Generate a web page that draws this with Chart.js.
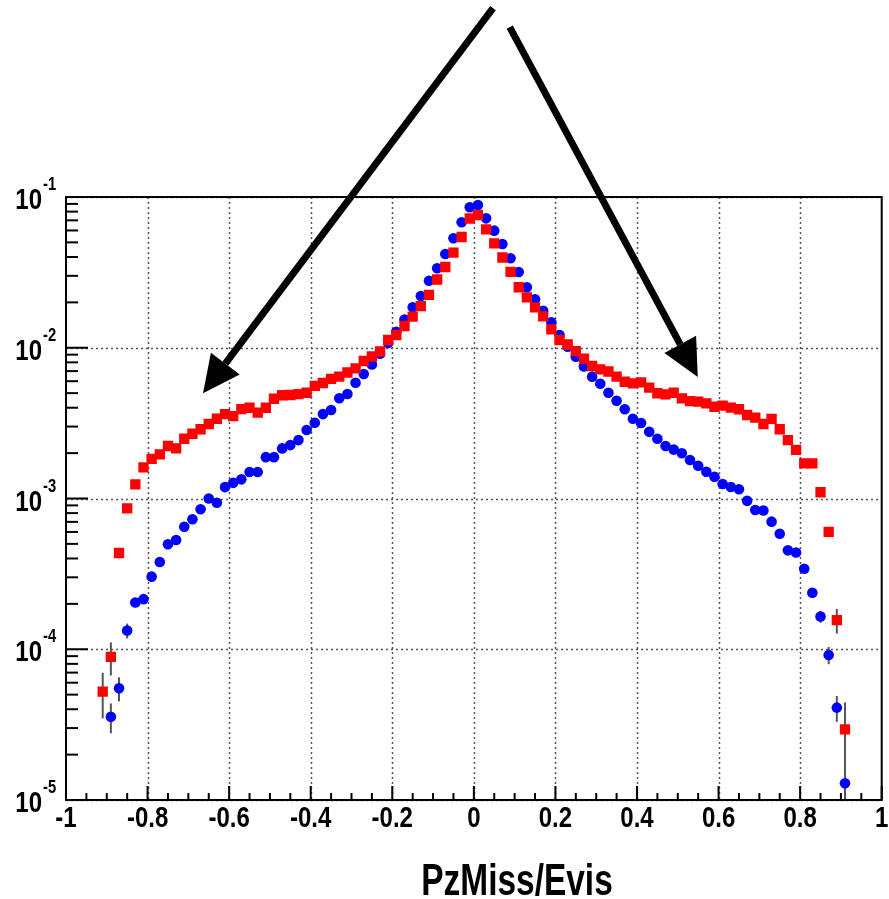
<!DOCTYPE html>
<html>
<head>
<meta charset="utf-8">
<script src="https://cdn.jsdelivr.net/npm/chart.js@4.4.0/dist/chart.umd.min.js"></script>
<style>
    html, body { margin: 0; padding: 0; background: #fff; }
    #wrap { width: 889px; height: 899px; }
</style>
</head>
<body>
<div id="wrap"><canvas id="pzmiss-chart"></canvas></div>
<script>
// bin centres (width 0.02)
const binCenters = [
    -0.91, -0.89, -0.87, -0.85, -0.83, -0.81, -0.79, -0.77, -0.75, -0.73, -0.71,
    -0.69, -0.67, -0.65, -0.63, -0.61, -0.59, -0.57, -0.55, -0.53, -0.51,
    -0.49, -0.47, -0.45, -0.43, -0.41, -0.39, -0.37, -0.35, -0.33, -0.31,
    -0.29, -0.27, -0.25, -0.23, -0.21, -0.19, -0.17, -0.15, -0.13, -0.11,
    -0.09, -0.07, -0.05, -0.03, -0.01,
    0.01, 0.03, 0.05, 0.07, 0.09, 0.11, 0.13, 0.15, 0.17, 0.19, 0.21,
    0.23, 0.25, 0.27, 0.29, 0.31, 0.33, 0.35, 0.37, 0.39, 0.41,
    0.43, 0.45, 0.47, 0.49, 0.51, 0.53, 0.55, 0.57, 0.59, 0.61,
    0.63, 0.65, 0.67, 0.69, 0.71, 0.73, 0.75, 0.77, 0.79, 0.81,
    0.83, 0.85, 0.87, 0.89, 0.91
];

// red squares
const redValues = [
    5.23e-5, 8.9e-5, 4.35e-4, 8.6e-4, 1.24e-3, 1.61e-3, 1.83e-3, 1.96e-3, 2.23e-3, 2.15e-3, 2.49e-3,
    2.69e-3, 2.88e-3, 3.12e-3, 3.38e-3, 3.63e-3, 3.52e-3, 3.92e-3, 4.0e-3, 3.71e-3, 4.0e-3,
    4.59e-3, 4.84e-3, 4.86e-3, 4.93e-3, 5.03e-3, 5.58e-3, 5.84e-3, 6.21e-3, 6.43e-3, 6.85e-3,
    7.29e-3, 8.17e-3, 8.75e-3, 9.44e-3, 1.126e-2, 1.215e-2, 1.394e-2, 1.607e-2, 1.891e-2, 2.245e-2,
    2.836e-2, 3.433e-2, 4.27e-2, 5.43e-2, 7.2e-2,
    7.6e-2, 6.1e-2, 4.93e-2, 3.97e-2, 3.19e-2, 2.52e-2, 2.16e-2, 1.854e-2, 1.617e-2, 1.325e-2, 1.126e-2,
    1.051e-2, 9.51e-3, 8.46e-3, 7.57e-3, 7.19e-3, 6.96e-3, 6.43e-3, 5.95e-3, 5.81e-3, 5.9e-3,
    5.44e-3, 4.99e-3, 4.91e-3, 5.03e-3, 4.62e-3, 4.43e-3, 4.39e-3, 4.28e-3, 4.06e-3, 4.13e-3,
    4.01e-3, 3.91e-3, 3.58e-3, 3.44e-3, 3.12e-3, 3.37e-3, 2.88e-3, 2.44e-3, 2.1e-3, 1.71e-3,
    1.71e-3, 1.1e-3, 6.0e-4, 1.56e-4, 2.94e-5
];

// blue circles
const blueValues = [
    null, 3.57e-5, 5.51e-5, 1.33e-4, 2.04e-4, 2.15e-4, 3.03e-4, 3.79e-4, 4.97e-4, 5.31e-4, 6.5e-4,
    7.28e-4, 8.48e-4, 1.0e-3, 9.38e-4, 1.19e-3, 1.27e-3, 1.34e-3, 1.5e-3, 1.5e-3, 1.88e-3,
    1.88e-3, 2.15e-3, 2.26e-3, 2.44e-3, 2.85e-3, 3.18e-3, 3.63e-3, 3.86e-3, 4.62e-3, 4.93e-3,
    5.86e-3, 6.7e-3, 7.74e-3, 9.13e-3, 1.075e-2, 1.278e-2, 1.539e-2, 1.854e-2, 2.204e-2, 2.785e-2,
    3.365e-2, 4.19e-2, 5.32e-2, 6.8e-2, 8.55e-2,
    8.85e-2, 7.22e-2, 5.98e-2, 4.88e-2, 3.92e-2, 3.18e-2, 2.52e-2, 2.1e-2, 1.758e-2, 1.475e-2, 1.215e-2,
    1.016e-2, 8.72e-3, 7.51e-3, 6.43e-3, 5.77e-3, 5.03e-3, 4.45e-3, 3.91e-3, 3.38e-3, 3.17e-3,
    2.77e-3, 2.49e-3, 2.23e-3, 2.11e-3, 1.995e-3, 1.8e-3, 1.65e-3, 1.505e-3, 1.394e-3, 1.248e-3,
    1.192e-3, 1.151e-3, 9.65e-4, 8.39e-4, 8.32e-4, 7.02e-4, 5.84e-4, 4.53e-4, 4.38e-4, 3.42e-4,
    2.37e-4, 1.65e-4, 9.16e-5, 4.1e-5, 1.29e-5
];

// statistical errors, only where they stick out of the marker
const redErrBins = [-0.91, -0.89, 0.89, 0.91];
const redErrors = [1.75e-5, 2.2e-5, 2.9e-5, 1.5e-5];
const blueErrBins = [-0.89, -0.87, -0.85, 0.85, 0.87, 0.89, 0.91];
const blueErrors = [8e-6, 1e-5, 1.5e-5, 1.5e-5, 1.2e-5, 8e-6, 7e-6];

// axes
const xTickValues = [-1, -0.8, -0.6, -0.4, -0.2, 0, 0.2, 0.4, 0.6, 0.8, 1];
const xTickLabels = ['-1', '-0.8', '-0.6', '-0.4', '-0.2', '0', '0.2', '0.4', '0.6', '0.8', '1'];
const yExponents = [-1, -2, -3, -4, -5];
const xTitle = 'PzMiss/Evis';

// arrows [x0, y0, x1, y1] in data units
const arrows = [
    [0.047, 1.79, -0.664, 5.0e-3],
    [0.088, 1.34, 0.549, 6.4e-3]
];

const FONT = '"Liberation Sans", Arial, sans-serif';

const toPoints = values => binCenters.map((x, i) => ({ x: x, y: values[i] }));

// bold helvetica in the original is condensed, squeeze it a bit
function squeezedText(ctx, text, x, y, size, align, sx) {
    ctx.save();
    ctx.translate(x, y);
    ctx.scale(sx, 1);
    ctx.font = 'bold ' + size + 'px ' + FONT;
    ctx.textAlign = align;
    ctx.fillText(text, 0, 0);
    ctx.restore();
}

const errorBars = {
    id: 'errorBars',
    beforeDatasetsDraw(chart) {
        const { ctx, chartArea } = chart;
        const x = chart.scales.x, y = chart.scales.y;
        const sets = [[redErrBins, redErrors, redValues], [blueErrBins, blueErrors, blueValues]];
        ctx.save();
        ctx.strokeStyle = '#555';
        ctx.lineWidth = 2;
        sets.forEach(([bins, errs, values]) => {
            bins.forEach((b, i) => {
                const v = values[binCenters.indexOf(b)];
                const lo = v - errs[i];
                const px = x.getPixelForValue(b);
                const yTop = y.getPixelForValue(v + errs[i]);
                const yBot = lo > y.min ? y.getPixelForValue(lo) : chartArea.bottom;
                ctx.beginPath();
                ctx.moveTo(px, yTop);
                ctx.lineTo(px, yBot);
                ctx.stroke();
            });
        });
        ctx.restore();
    }
};

const rootFrame = {
    id: 'rootFrame',
    beforeDatasetsDraw(chart) {
        const { ctx, chartArea: a } = chart;
        const x = chart.scales.x, y = chart.scales.y;
        // dotted grid
        ctx.save();
        ctx.strokeStyle = '#555';
        ctx.lineWidth = 1.5;
        ctx.setLineDash([2, 3]);
        xTickValues.slice(1, -1).forEach(v => {
            const px = Math.round(x.getPixelForValue(v)) + 0.5;
            ctx.beginPath();
            ctx.moveTo(px, a.top);
            ctx.lineTo(px, a.bottom);
            ctx.stroke();
        });
        yExponents.forEach(e => {
            const py = Math.round(y.getPixelForValue(Math.pow(10, e))) + 0.5;
            ctx.beginPath();
            ctx.moveTo(a.left, py);
            ctx.lineTo(a.right, py);
            ctx.stroke();
        });
        ctx.restore();
    },
    afterDatasetsDraw(chart) {
        const { ctx, chartArea: a } = chart;
        const x = chart.scales.x, y = chart.scales.y;
        ctx.save();
        ctx.strokeStyle = '#000';
        ctx.fillStyle = '#000';
        ctx.lineWidth = 2;

        // frame
        ctx.strokeRect(a.left, a.top, a.right - a.left, a.bottom - a.top);

        // x ticks, minor every 0.05
        for (let k = 0; k <= 40; k++) {
            const v = -1 + k * 0.05;
            const len = k % 4 === 0 ? 14 : 7;
            const px = x.getPixelForValue(v);
            ctx.beginPath();
            ctx.moveTo(px, a.bottom);
            ctx.lineTo(px, a.bottom - len);
            ctx.stroke();
        }
        // y ticks, log minors
        yExponents.forEach(e => {
            const py = y.getPixelForValue(Math.pow(10, e));
            ctx.beginPath();
            ctx.moveTo(a.left, py);
            ctx.lineTo(a.left + 22, py);
            ctx.stroke();
            if (e === -1) return;
            for (let m = 2; m <= 9; m++) {
                const pm = y.getPixelForValue(m * Math.pow(10, e));
                ctx.beginPath();
                ctx.moveTo(a.left, pm);
                ctx.lineTo(a.left + 12, pm);
                ctx.stroke();
            }
        });

        // tick labels
        ctx.textBaseline = 'alphabetic';
        xTickValues.forEach((v, i) => {
            squeezedText(ctx, xTickLabels[i], x.getPixelForValue(v), a.bottom + 27, 30, 'center', 0.8);
        });
        yExponents.forEach(e => {
            const py = y.getPixelForValue(Math.pow(10, e));
            squeezedText(ctx, '10', 42, py + 12, 30, 'right', 0.8);
            squeezedText(ctx, String(e), 43, py - 7, 18, 'left', 0.82);
        });

        // axis title
        squeezedText(ctx, xTitle, 517, 895, 44, 'center', 0.76);
        ctx.restore();
    },
    afterDraw(chart) {
        const { ctx } = chart;
        const x = chart.scales.x, y = chart.scales.y;
        ctx.save();
        ctx.strokeStyle = '#000';
        ctx.fillStyle = '#000';
        arrows.forEach(([x0, y0, x1, y1]) => {
            const sx = x.getPixelForValue(x0), sy = y.getPixelForValue(y0);
            const tx = x.getPixelForValue(x1), ty = y.getPixelForValue(y1);
            const ang = Math.atan2(ty - sy, tx - sx);
            const head = 37, half = 18;
            const bx = tx - head * Math.cos(ang), by = ty - head * Math.sin(ang);
            ctx.lineWidth = 7;
            ctx.beginPath();
            ctx.moveTo(sx, sy);
            ctx.lineTo(bx, by);
            ctx.stroke();
            ctx.beginPath();
            ctx.moveTo(tx, ty);
            ctx.lineTo(bx + half * Math.sin(ang), by - half * Math.cos(ang));
            ctx.lineTo(bx - half * Math.sin(ang), by + half * Math.cos(ang));
            ctx.closePath();
            ctx.fill();
        });
        ctx.restore();
    }
};

const chart = new Chart(document.getElementById('pzmiss-chart'), {
    type: 'scatter',
    data: {
        datasets: [{
            label: 'red',
            data: toPoints(redValues),
            pointStyle: 'rect',
            pointRadius: 7.3,
            backgroundColor: '#ff0000',
            borderWidth: 0
        }, {
            label: 'blue',
            data: toPoints(blueValues),
            pointStyle: 'circle',
            pointRadius: 5.3,
            backgroundColor: '#0000ff',
            borderWidth: 0
        }]
    },
    options: {
        animation: false,
        responsive: true,
        maintainAspectRatio: false,
        layout: { padding: { left: 66, right: 7, top: 197, bottom: 99 } },
        plugins: {
            legend: { display: false },
            tooltip: { enabled: false }
        },
        scales: {
            x: { type: 'linear', min: -1, max: 1, display: false },
            y: { type: 'logarithmic', min: 1e-5, max: 1e-1, display: false }
        }
    },
    plugins: [rootFrame, errorBars]
});
</script>
</body>
</html>
